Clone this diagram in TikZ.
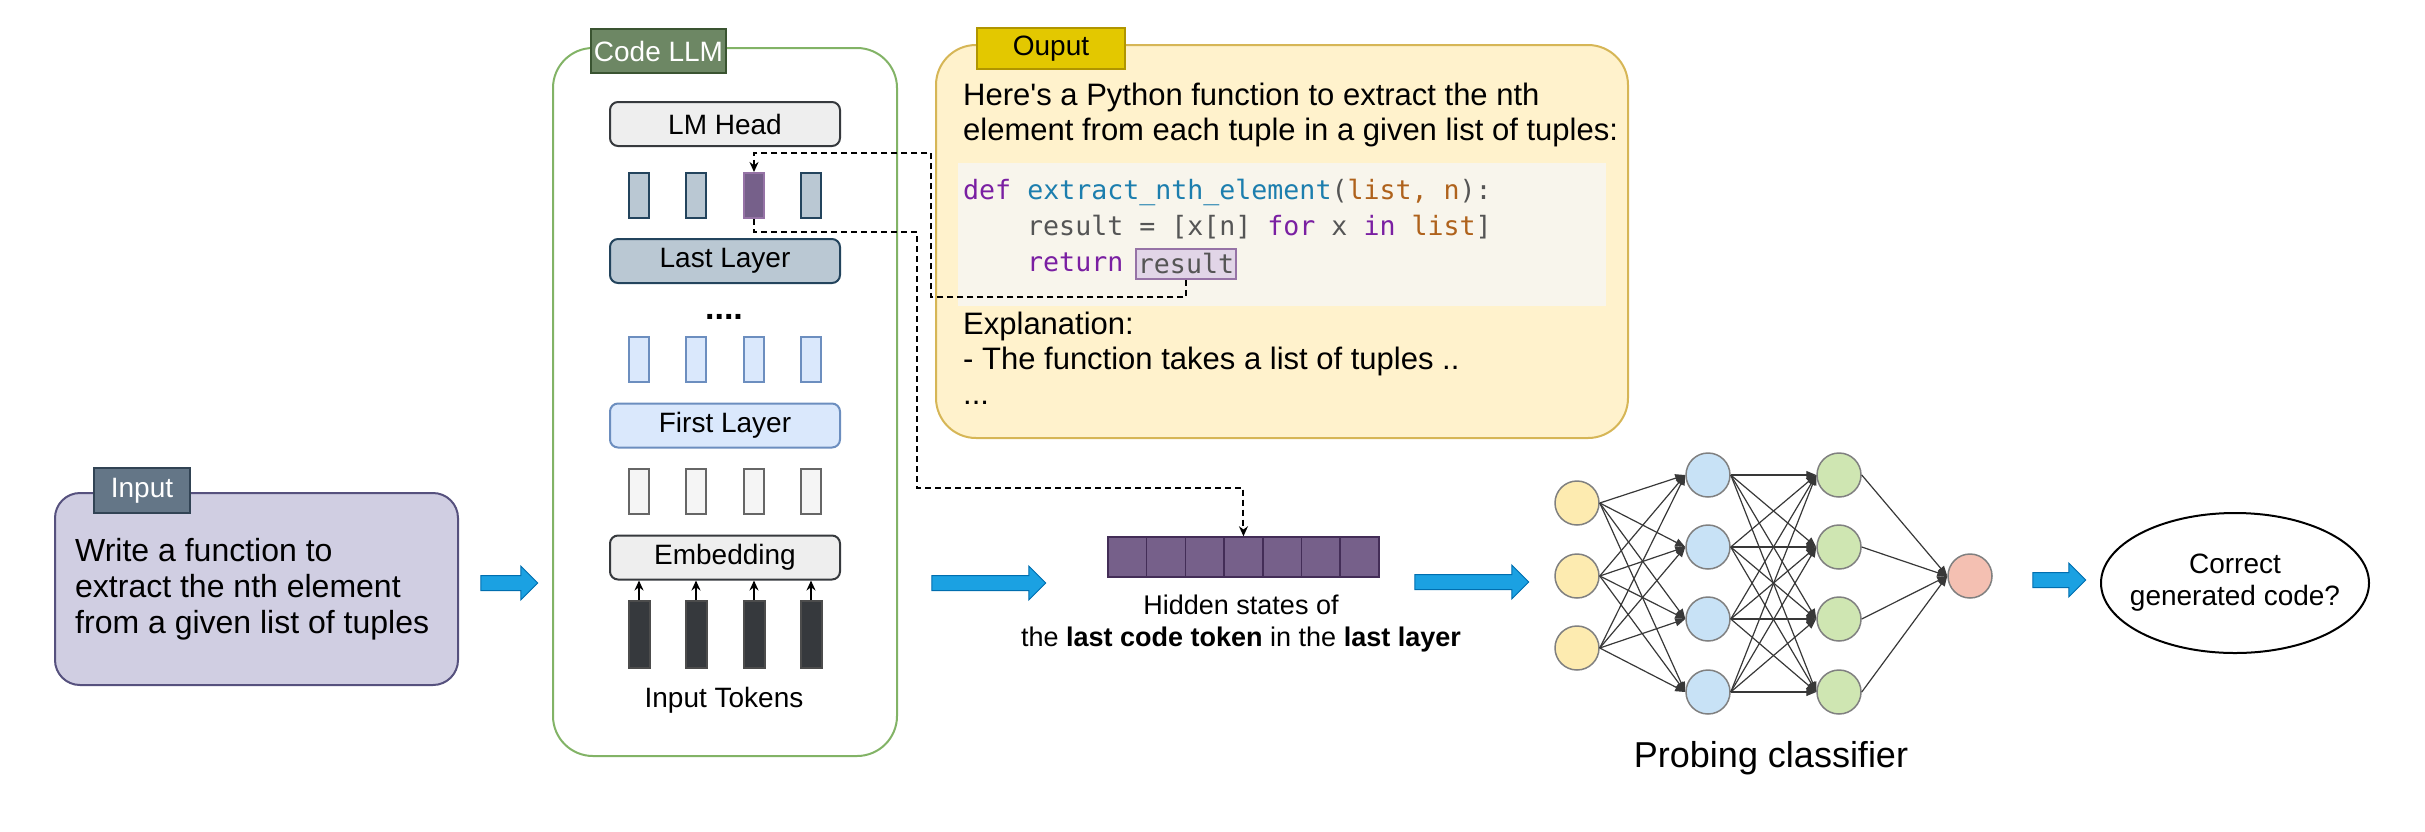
\documentclass[tikz,border=0pt]{standalone}
\usepackage{fontspec}
\setmainfont{Liberation Sans}
\setmonofont{DejaVu Sans Mono}
\usepackage{tikz}
\usetikzlibrary{arrows.meta,shapes.arrows,shapes.geometric}

\definecolor{infill}{HTML}{D0CEE2}
\definecolor{indraw}{HTML}{56517E}
\definecolor{slate}{HTML}{647687}
\definecolor{slatedraw}{HTML}{314354}
\definecolor{llmgreen}{HTML}{82B366}
\definecolor{llmtag}{HTML}{6D8764}
\definecolor{llmtagdraw}{HTML}{3A5431}
\definecolor{headfill}{HTML}{EEEEEE}
\definecolor{headdraw}{HTML}{36393D}
\definecolor{lastfill}{HTML}{BAC8D3}
\definecolor{lastdraw}{HTML}{23445D}
\definecolor{firstfill}{HTML}{DAE8FC}
\definecolor{firstdraw}{HTML}{6C8EBF}
\definecolor{embfill}{HTML}{F5F5F5}
\definecolor{embdraw}{HTML}{666666}
\definecolor{hidfill}{HTML}{76608A}
\definecolor{hiddraw}{HTML}{432D57}
\definecolor{hidlight}{HTML}{9673A6}
\definecolor{outfill}{HTML}{FFF2CC}
\definecolor{outdraw}{HTML}{D6B656}
\definecolor{outtag}{HTML}{E3C800}
\definecolor{outtagdraw}{HTML}{B09500}
\definecolor{codebg}{HTML}{F8F5EC}
\definecolor{resfill}{HTML}{E1D5E7}
\definecolor{kw}{HTML}{7A1FA2}
\definecolor{fn}{HTML}{1C7EAE}
\definecolor{arg}{HTML}{AF621C}
\definecolor{cg}{HTML}{555555}
\definecolor{arrowblue}{HTML}{1BA1E2}
\definecolor{arrowedge}{HTML}{006EAF}
\definecolor{nnyellow}{HTML}{FDEBB0}
\definecolor{nnblue}{HTML}{C8E2F6}
\definecolor{nngreen}{HTML}{CFE6B2}
\definecolor{nnred}{HTML}{F4C0B2}
\definecolor{nndraw}{HTML}{808080}

\begin{document}
\begin{tikzpicture}[x=1pt,y=-1pt]
\tikzset{lbl/.style={font=\fontsize{28}{32}\selectfont},
  tagbox/.style={draw,line width=1.5pt,inner sep=0,lbl},
  layerbox/.style={draw,rounded corners=8,line width=2pt,minimum width=230,minimum height=44,inner sep=0,lbl},
  cell/.style={draw,line width=2pt,minimum width=20,minimum height=45,inner sep=0},
  code/.style={font=\fontsize{26.6}{30}\ttfamily,inner sep=0,text=cg},
  bluearrow/.style={single arrow,fill=arrowblue,draw=arrowedge,line width=1pt,inner sep=7pt,single arrow head extend=9.5pt},
  neuron/.style={circle,draw=nndraw,line width=1.5pt,minimum size=44,inner sep=0},
  nnedge/.style={draw=black!78,line width=1.2pt,-{Triangle[length=10pt,width=8pt]}},
  dashline/.style={line width=2pt,dash pattern=on 6pt off 4pt,-{Stealth[length=10pt,width=9pt]}}}
\useasboundingbox (0,0) rectangle (2425,831);

% input prompt
\node[draw=indraw,fill=infill,line width=2pt,rounded corners=25,minimum width=403,minimum height=192] (input) at (256.5,589) {};
\node[tagbox,draw=slatedraw,fill=slate,text=white,minimum width=96,minimum height=45] (inputtag) at (142,490.5) {Input};
\node[anchor=west,align=left,inner sep=0,font=\fontsize{32}{36}\selectfont] (prompt) at (75,589) {Write a function to\\extract the nth element\\from a given list of tuples};
\node[bluearrow,minimum height=57] (arr1) at (505.5,583) {};

% code LLM
\node[draw=llmgreen,line width=2pt,rounded corners=40,minimum width=344,minimum height=708] (llm) at (725,402) {};
\node[tagbox,draw=llmtagdraw,fill=llmtag,text=white,minimum width=135,minimum height=44] (llmtag) at (658.5,51) {Code LLM};
\node[layerbox,draw=headdraw,fill=headfill] (head) at (725,124) {LM Head};
\node[layerbox,draw=lastdraw,fill=lastfill] (last) at (725,261) {Last Layer};
\node[layerbox,draw=firstdraw,fill=firstfill] (first) at (725,425.5) {First Layer};
\node[layerbox,draw=headdraw,fill=headfill] (emb) at (725,557.5) {Embedding};
\foreach \x/\n in {639/1,696/2,754/3,811/4}{
  \node[cell,draw=firstdraw,fill=firstfill] (m\n) at (\x,359.5) {};
  \node[cell,draw=embdraw,fill=embfill] (e\n) at (\x,491.5) {};
  \node[cell,draw=black!70,fill=headdraw,minimum width=21,minimum height=67] (t\n) at (\x,634.5) {};
  \draw[line width=2pt,-{Stealth[length=10pt,width=9pt]}] (t\n.north) -- (t\n |- emb.south);
}
\foreach \x/\n in {639/1,696/2,811/4}
  \node[cell,draw=lastdraw,fill=lastfill] (r\n) at (\x,195.5) {};
\node[cell,draw=hidlight,fill=hidfill] (r3) at (754,195.5) {};
\node[inner sep=0,font=\fontsize{34}{34}\selectfont\bfseries] (dots) at (724,317) {....};
\node[lbl] (tokens) at (724,700) {Input Tokens};

% output
\node[draw=outdraw,fill=outfill,line width=2pt,rounded corners=40,minimum width=692,minimum height=393] (output) at (1282,241.5) {};
\node[tagbox,draw=outtagdraw,fill=outtag,minimum width=148,minimum height=41] (outputtag) at (1051,48.5) {Ouput};
\node[anchor=west,align=left,inner sep=0,font=\fontsize{31}{35}\selectfont] (answer) at (963,114.5) {Here\textquotesingle s a Python function to extract the nth\\element from each tuple in a given list of tuples:};
\node[fill=codebg,minimum width=648,minimum height=143,inner sep=0] (codebg) at (1282,234.5) {};
\node[code,anchor=west] (cl1) at (963,192) {\textcolor{kw}{def} \textcolor{fn}{extract\_nth\_element}(\textcolor{arg}{list, n}):};
\node[code,anchor=west] (cl2) at (1027,227) {result = [x[n] \textcolor{kw}{for} x \textcolor{kw}{in} \textcolor{arg}{list}]};
\node[code,anchor=west] (cl3) at (1027,262) {\textcolor{kw}{return}};
\node[code,draw=hidlight,fill=resfill,line width=1.5pt,minimum width=100,minimum height=30] (res) at (1186,264) {result};
\node[anchor=west,align=left,inner sep=0,font=\fontsize{31}{35}\selectfont] (explain) at (963,358) {Explanation:\\- The function takes a list of tuples ..\\...};

% hidden states
\node[bluearrow,minimum height=114] (arr2) at (985,583) {};
\foreach \k in {1,...,7}
  \node[draw=hiddraw,fill=hidfill,line width=1.5pt,minimum width=38.7,minimum height=40,inner sep=0] (h\k) at ({1108+38.7*(\k-0.5)},557) {};
\node[align=center,inner sep=0,font=\fontsize{27}{32}\selectfont] (hidtext) at (1241,624) {Hidden states of\\the \textbf{last code token} in the \textbf{last layer}};
\node[bluearrow,minimum height=114] (arr3) at (1468,582) {};

% probing classifier
\foreach \n/\y in {1/503,2/576,3/648}
  \node[neuron,fill=nnyellow] (in\n) at (1577,\y) {};
\foreach \n/\y in {1/475,2/547,3/619,4/692}{
  \node[neuron,fill=nnblue] (hA\n) at (1708,\y) {};
  \node[neuron,fill=nngreen] (hB\n) at (1839,\y) {};
}
\node[neuron,fill=nnred] (out) at (1970,576) {};
\foreach \i in {1,2,3}
  \foreach \j in {1,...,4}
    \draw[nnedge] (in\i.east) -- (hA\j.west);
\foreach \i in {1,...,4}
  \foreach \j in {1,...,4}
    \draw[nnedge] (hA\i.east) -- (hB\j.west);
\foreach \i in {1,...,4}
  \draw[nnedge] (hB\i.east) -- (out.west);
\node[inner sep=0,font=\fontsize{36}{40}\selectfont] (probe) at (1771,758) {Probing classifier};
\node[bluearrow,minimum height=53] (arr4) at (2055.5,580) {};
\node[ellipse,draw,line width=2pt,minimum width=268,minimum height=140,inner xsep=-60pt,inner ysep=-10pt,align=center,lbl] (verdict) at (2235,583) {Correct\\generated code?};

% dashed links
\draw[dashline] (res.south) |- (931,297) |- (754,153) -- (r3.north);
\draw[dashline] (r3.south) -- ++(0,13) -| (917,488) -| (h4.north);
\end{tikzpicture}
\end{document}
